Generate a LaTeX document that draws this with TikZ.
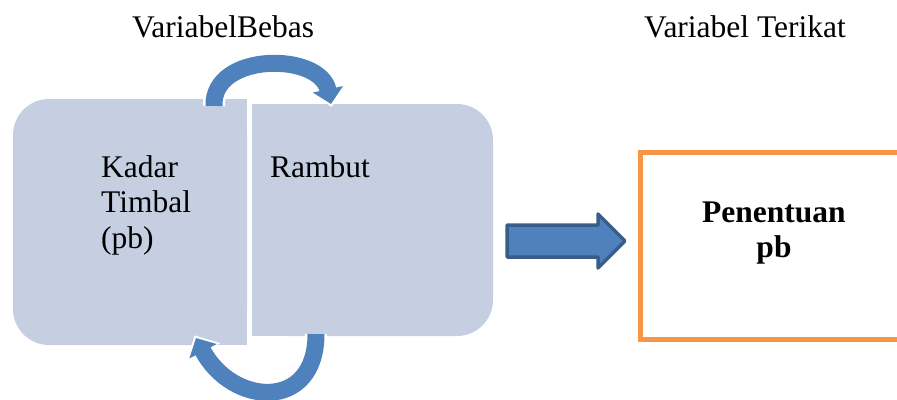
\documentclass[tikz,border=0pt]{standalone}
\usepackage{fontspec}
\setmainfont{Liberation Serif}
\usetikzlibrary{arrows.meta}
\definecolor{blok}{RGB}{197,207,225}
\definecolor{panah}{RGB}{79,129,189}
\definecolor{panahtepi}{RGB}{56,93,138}
\definecolor{jingga}{RGB}{247,150,70}
\tikzset{
  teks/.style={font=\fontsize{31.5}{37}\selectfont, inner sep=0pt},
  lengkung/.style={line width=17pt, panah, -{Triangle[width=30pt,length=15pt]},
    preaction={draw=white, line width=22pt, shorten >=-3pt, -{Triangle[width=37pt,length=19pt]}}},
}
\begin{document}
\begin{tikzpicture}[x=1pt,y=-1pt]
\useasboundingbox (0,0) rectangle (897,399);
\clip (0,0) rectangle (897,399);
% blok variabel bebas
\fill[blok, rounded corners=36pt] (13,99) rectangle (247,345);
\fill[blok] (130,99) rectangle (247,345);
\fill[blok, rounded corners=36pt] (252,104) rectangle (493,336);
\fill[blok] (252,104) rectangle (370,336);
% kotak variabel terikat
\draw[jingga, line width=5pt] (915,152) -- (640,152) -- (640,339.5) -- (915,339.5);
% panah lengkung
\coordinate (atas-a) at (214,106);
\coordinate (atas-b) at (331,104);
\coordinate (bawah-a) at (316,334);
\coordinate (bawah-b) at (196,338);
\draw[lengkung] (atas-a) .. controls (212,52) and (320,52) .. (atas-b);
\draw[lengkung] (bawah-a) .. controls (316,412) and (232,406) .. (bawah-b);
% panah blok
\draw[panahtepi, fill=panah, line width=3.5pt, line join=round]
  (507,225) -- (598,225) -- (598,214) -- (625,241) -- (598,268) -- (598,257) -- (507,257) -- cycle;
%%
\node[teks, anchor=base] (bebas) at (223,37) {VariabelBebas};
\node[teks, anchor=base] (terikat) at (745,37) {Variabel Terikat};
\node[teks, anchor=base west] (kadar) at (101,177) {Kadar};
\node[teks, anchor=base west] (timbal) at (101,212) {Timbal};
\node[teks, anchor=base west] (pb) at (101,248) {(pb)};
\node[teks, anchor=base west] (rambut) at (270,177) {Rambut};
\node[teks, font=\fontsize{31.5}{37}\selectfont\bfseries, anchor=base] (penentuan) at (774,222) {Penentuan};
\node[teks, font=\fontsize{31.5}{37}\selectfont\bfseries, anchor=base] (pbb) at (774,257) {pb};
\end{tikzpicture}
\end{document}
